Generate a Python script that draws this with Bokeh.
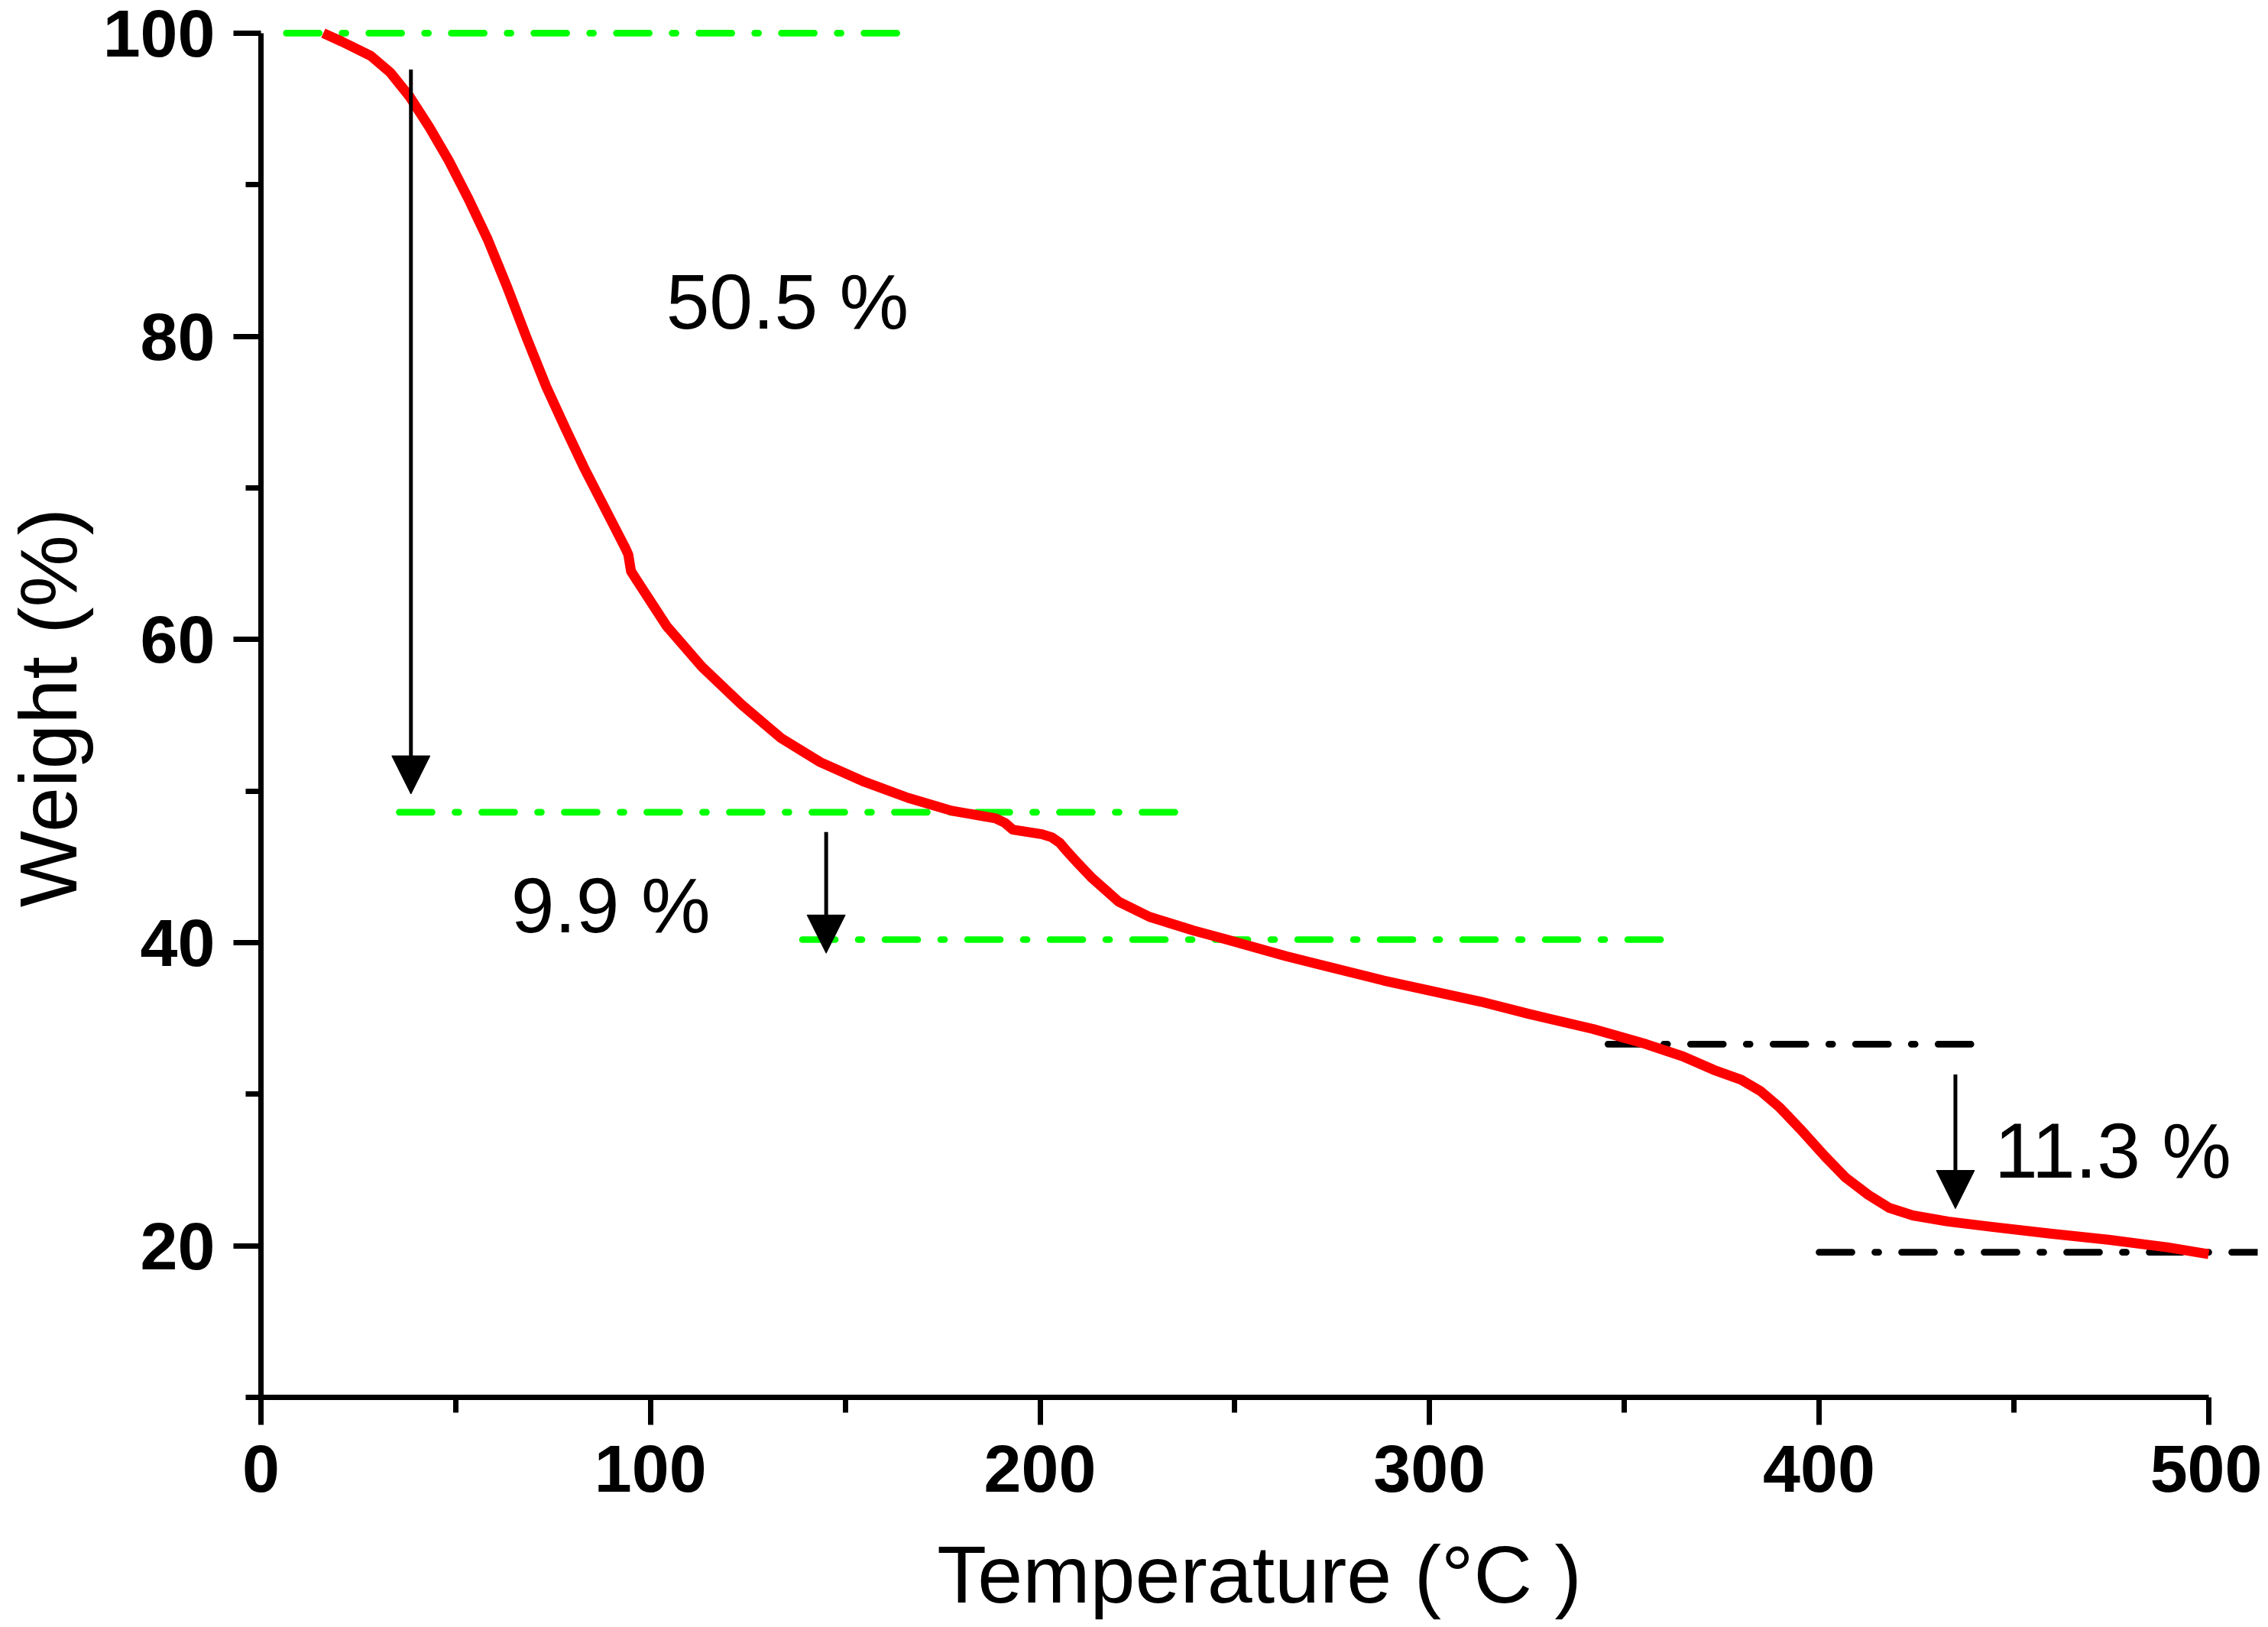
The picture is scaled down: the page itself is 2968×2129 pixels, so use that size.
from bokeh.plotting import figure
from bokeh.models import FixedTicker, Label, Arrow, NormalHead, Range1d, ColumnDataSource
from bokeh.embed import file_html
from bokeh.resources import INLINE

# TGA curve
temperature = [16, 20.7, 28.2, 33.2, 38.2, 43.2, 48.2, 53.2, 58.2, 63.2, 68.2, 73.2, 78.2, 83, 88.8,
               93.6, 94.3, 95.0, 97.5, 104.1, 113.2, 123.4, 133.5, 143.6, 155, 166.1, 177.3, 188.6,
               191.0, 193.0, 200.5, 203.0, 205.0, 207.0, 209.5, 213.4, 220.2, 228.1, 239.3, 248,
               263.2, 288.2, 313.2, 325.4, 342, 355.6, 365, 373, 380, 385, 390, 395, 401.5, 406.8,
               412.7, 418.0, 424.1, 433.1, 444.3, 459.4, 474.3, 489.4, 500]
weight = [100, 99.45, 98.5, 97.4, 95.8, 93.8, 91.6, 89.1, 86.4, 83.25, 79.9, 76.7, 73.9, 71.3, 68.4,
          66.0, 65.6, 64.5, 63.5, 60.9, 58.2, 55.7, 53.5, 51.9, 50.6, 49.55, 48.7, 48.2,
          47.9, 47.45, 47.15, 46.95, 46.6, 46.0, 45.3, 44.25, 42.7, 41.7, 40.8, 40.2,
          39.1, 37.5, 36.1, 35.3, 34.3, 33.3, 32.5, 31.6, 30.95, 30.2, 29.1, 27.75, 25.9, 24.5,
          23.35, 22.5, 22.0, 21.6, 21.25, 20.8, 20.4, 19.9, 19.45]

# reference levels
green_y = [100, 48.6, 40.2]
green_x0 = [6.5, 35.5, 139]
green_x1 = [168, 238.5, 363.5]
black_y = [33.3, 19.57]
black_x0 = [345.8, 400]
black_x1 = [443.8, 514]

# step arrows
arrow_x = [38.5, 145.1, 435.0]
arrow_top = [97.6, 47.3, 31.3]
arrow_tip = [49.8, 39.3, 22.45]

# step labels
step_text = ["50.5 %", "9.9 %", "11.3 %"]
step_x = [104, 64.2, 445]
step_y = [80.5, 40.65, 24.5]

x_ticks = [0, 100, 200, 300, 400, 500]
x_minor = [50, 150, 250, 350, 450]
y_ticks = [20, 40, 60, 80, 100]
y_minor = [10, 30, 50, 70, 90]

FONT = "Liberation Sans"
Y_PER_PX = 91 / 1806.0

p = figure(width=2960, height=2121, x_range=Range1d(0, 512.6), y_range=Range1d(10, 101),
           output_backend="svg", toolbar_location=None,
           min_border_left=341, min_border_right=6, min_border_top=23, min_border_bottom=292)
p.background_fill_color = "white"
p.border_fill_color = "white"
p.outline_line_color = None
p.xgrid.visible = False
p.ygrid.visible = False

for ax, ticks, minor, bounds in ((p.xaxis[0], x_ticks, x_minor, (0, 500)),
                                 (p.yaxis[0], y_ticks, y_minor, (10, 100))):
    ax.ticker = FixedTicker(ticks=ticks, minor_ticks=minor)
    ax.bounds = bounds
    ax.axis_line_width = 7
    ax.axis_line_color = "black"
    ax.major_tick_line_width = 7
    ax.minor_tick_line_width = 7
    ax.major_tick_line_color = "black"
    ax.minor_tick_line_color = "black"
    ax.major_tick_out = 36
    ax.major_tick_in = 0
    ax.minor_tick_out = 20
    ax.minor_tick_in = 0
    ax.major_label_text_font = FONT
    ax.major_label_text_font_style = "bold"
    ax.major_label_text_font_size = "88px"
    ax.major_label_text_color = "black"
    ax.axis_label_text_font = FONT
    ax.axis_label_text_font_style = "normal"
    ax.axis_label_text_font_size = "106px"
    ax.axis_label_text_color = "black"

p.xaxis.major_label_standoff = 26
p.yaxis.major_label_standoff = 24
p.xaxis.axis_label = "Temperature (°C )"
p.yaxis.axis_label = "Weight (%)"
p.xaxis.axis_label_standoff = 46
p.yaxis.axis_label_standoff = 10

# dash-dot level lines
for y, x0, x1 in zip(green_y, green_x0, green_x1):
    p.line([x0, x1], [y, y], line_color="#00FF00", line_width=8.7, line_dash="43 30 5 30",
           line_cap="round")
for y, x0, x1 in zip(black_y, black_x0, black_x1):
    p.line([x0, x1], [y, y], line_color="black", line_width=8.7, line_dash="43 30 5 30",
           line_cap="round")

# curve
p.line(temperature, weight, line_color="#FF0000", line_width=13, line_join="round")

# arrows
asrc = ColumnDataSource(dict(x=arrow_x, y0=arrow_top, y1=arrow_tip))
p.add_layout(Arrow(end=NormalHead(size=50, fill_color="black", line_color="black", line_width=1),
                   x_start="x", y_start="y0", x_end="x", y_end="y1", source=asrc,
                   line_width=5, line_color="black"))

# labels: anchor at the middle of the text box, baseline sits ~0.35 em below it
for t, x, y in zip(step_text, step_x, step_y):
    p.add_layout(Label(x=x, y=y + 0.3465 * 102 * Y_PER_PX, text=t, text_font=FONT,
                       text_font_size="102px", text_align="left", text_baseline="middle",
                       text_color="black"))

open("out.html", "w").write(file_html(p, INLINE))
